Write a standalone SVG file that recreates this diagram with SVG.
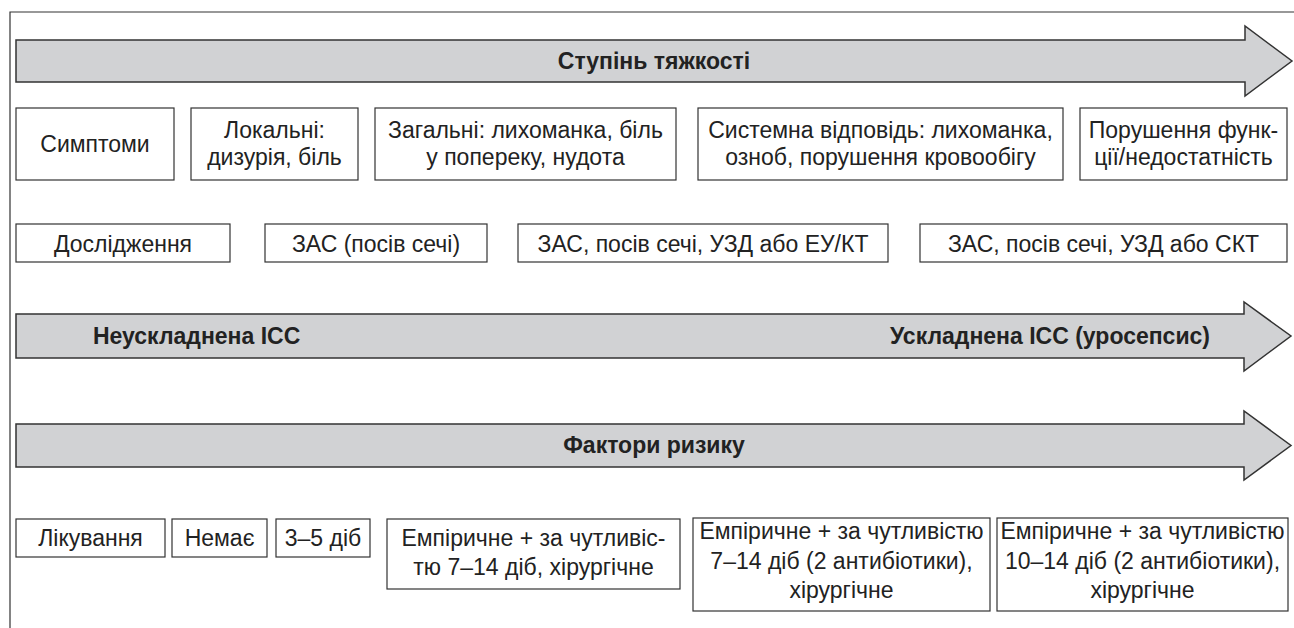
<svg xmlns="http://www.w3.org/2000/svg" width="1294" height="628" viewBox="0 0 1294 628">
<style>
.arr{fill:#d1d2d4;stroke:#333;stroke-width:1.5;stroke-linejoin:miter}
.box{fill:#fff;stroke:#333;stroke-width:1.2}
.t{font-family:"Liberation Sans",Arial,sans-serif;font-size:23px;fill:#222;text-anchor:middle}
.b{font-family:"Liberation Sans",Arial,sans-serif;font-size:23px;font-weight:bold;fill:#222}
.frame{fill:none;stroke:#333;stroke-width:1.2}
</style>
<rect width="1294" height="628" fill="#fff"/>
<path class="frame" d="M10,628 V12 H1294"/>
<g id="arrow-severity">
<path class="arr" d="M16,40 H1245 V26 L1292,61 L1245,96 V82 H16 Z"/>
<text class="b" x="654" y="69" text-anchor="middle">Ступінь тяжкості</text>
</g>
<g id="sym-label"><rect class="box" x="16" y="108" width="158" height="72"/><text class="t" x="95" y="152">Симптоми</text></g>
<g id="sym-local"><rect class="box" x="191" y="108" width="167" height="72"/><text class="t" x="274.5" y="138">Локальні:</text><text class="t" x="274.5" y="165">дизурія, біль</text></g>
<g id="sym-general"><rect class="box" x="375" y="108" width="301" height="72"/><text class="t" x="525.5" y="138">Загальні: лихоманка, біль</text><text class="t" x="525.5" y="165">у попереку, нудота</text></g>
<g id="sym-system"><rect class="box" x="698" y="108" width="365" height="72"/><text class="t" x="880.5" y="138">Системна відповідь: лихоманка,</text><text class="t" x="880.5" y="165">озноб, порушення кровообігу</text></g>
<g id="sym-failure"><rect class="box" x="1080" y="108" width="207" height="72"/><text class="t" x="1183.5" y="138">Порушення функ-</text><text class="t" x="1183.5" y="165">ції/недостатність</text></g>
<g id="inv-label"><rect class="box" x="16" y="224" width="214" height="38"/><text class="t" x="123" y="252">Дослідження</text></g>
<g id="inv-1"><rect class="box" x="265" y="224" width="222" height="38"/><text class="t" x="376" y="252">ЗАС (посів сечі)</text></g>
<g id="inv-2"><rect class="box" x="518" y="224" width="370" height="38"/><text class="t" x="703" y="252">ЗАС, посів сечі, УЗД або ЕУ/КТ</text></g>
<g id="inv-3"><rect class="box" x="920" y="224" width="367" height="38"/><text class="t" x="1103.5" y="252">ЗАС, посів сечі, УЗД або СКТ</text></g>
<g id="arrow-complexity">
<path class="arr" d="M16,314 H1244 V302 L1291,336 L1244,371 V358 H16 Z"/>
<text class="b" x="93" y="344">Неускладнена ІСС</text>
<text class="b" x="1210" y="344" text-anchor="end">Ускладнена ІСС (уросепсис)</text>
</g>
<g id="arrow-risk">
<path class="arr" d="M16,424 H1244 V411 L1291,445.5 L1244,480 V467 H16 Z"/>
<text class="b" x="654" y="453" text-anchor="middle">Фактори ризику</text>
</g>
<g id="tr-label"><rect class="box" x="16" y="519" width="149" height="38"/><text class="t" x="90.5" y="546">Лікування</text></g>
<g id="tr-1"><rect class="box" x="172" y="519" width="95" height="38"/><text class="t" x="219.5" y="546">Немає</text></g>
<g id="tr-2"><rect class="box" x="276" y="519" width="94" height="38"/><text class="t" x="323" y="546">3–5 діб</text></g>
<g id="tr-3"><rect class="box" x="387" y="519" width="293" height="70"/><text class="t" x="533.5" y="546">Емпіричне + за чутливіс-</text><text class="t" x="533.5" y="575">тю 7–14 діб, хірургічне</text></g>
<g id="tr-4"><rect class="box" x="693" y="518" width="297" height="93"/><text class="t" x="841.5" y="539">Емпіричне + за чутливістю</text><text class="t" x="841.5" y="569">7–14 діб (2 антибіотики),</text><text class="t" x="841.5" y="598">хірургічне</text></g>
<g id="tr-5"><rect class="box" x="997" y="518" width="291" height="93"/><text class="t" x="1142.5" y="539">Емпіричне + за чутливістю</text><text class="t" x="1142.5" y="569">10–14 діб (2 антибіотики),</text><text class="t" x="1142.5" y="598">хірургічне</text></g>
<g id="connectors"></g>
</svg>
